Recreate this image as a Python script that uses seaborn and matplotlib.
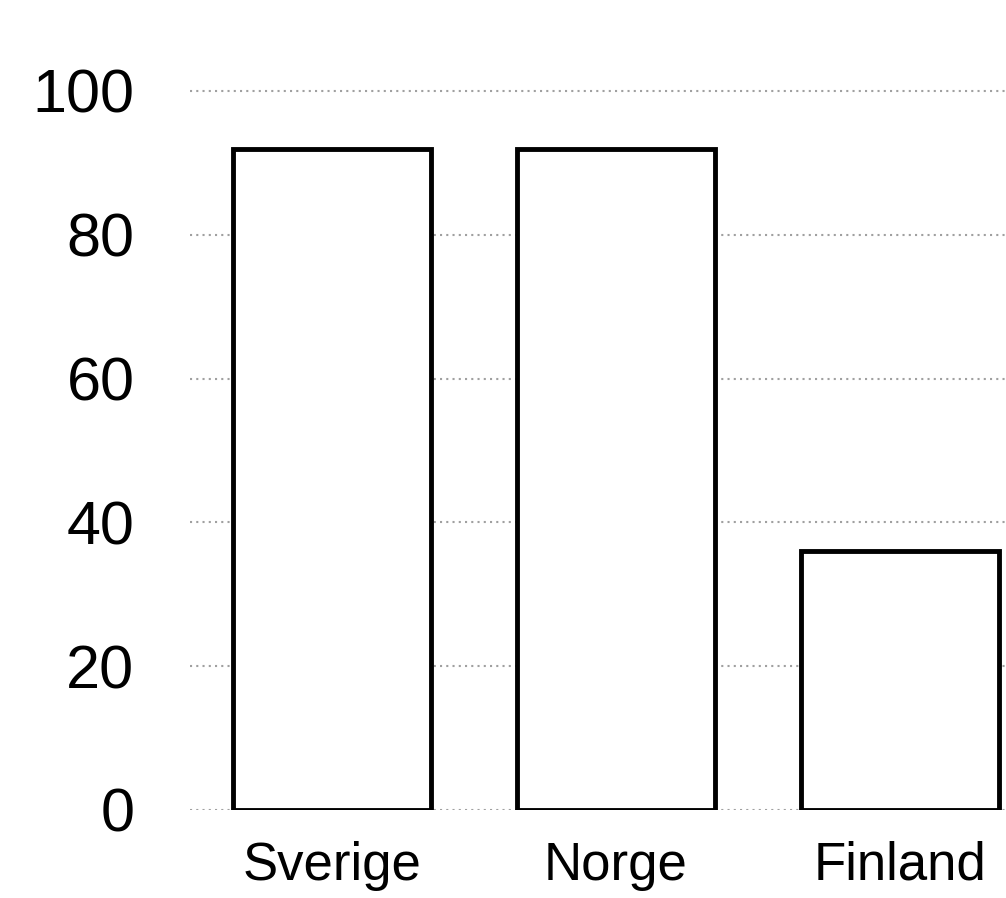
import matplotlib
matplotlib.use("Agg")
import matplotlib.pyplot as plt
import seaborn as sns
import pandas as pd

countries = ["Sverige", "Norge", "Finland"]
values = [92, 92, 36]
y_ticks = [0, 20, 40, 60, 80, 100]

sns.set_theme(style="white")
plt.rcParams['font.family'] = ['Liberation Sans', 'DejaVu Sans']

df = pd.DataFrame({"land": countries, "varde": values})

fig = plt.figure(figsize=(10.06, 8.98), dpi=100)
W, H = 1006, 898
x0 = 190 / W
x1 = 1042 / W
y0 = (H - 810) / H
ppu = 7.19
ytop = 101.5
ax = fig.add_axes([x0, y0, x1 - x0, ppu * ytop / H])

sns.barplot(data=df, x="land", y="varde", ax=ax, color="white",
            edgecolor="black", linewidth=3.5, width=0.7, zorder=3)

ax.set_ylim(0, ytop)
ax.set_xlim(-0.5, 2.5)
ax.set_yticks(y_ticks)
ax.set_yticklabels([str(t) for t in y_ticks])
for t in y_ticks:
    ax.axhline(t, color="#a0a0a0", linestyle=(0, (1, 2)), linewidth=1.5, zorder=1)
ax.grid(False)
for s in ax.spines.values():
    s.set_visible(False)
ax.tick_params(axis="y", length=0, pad=40, labelsize=44, labelcolor="black")
ax.tick_params(axis="x", length=0, pad=22, labelsize=38, labelcolor="black")
ax.set_xlabel("")
ax.set_ylabel("")

fig.savefig("out.png", dpi=100)
